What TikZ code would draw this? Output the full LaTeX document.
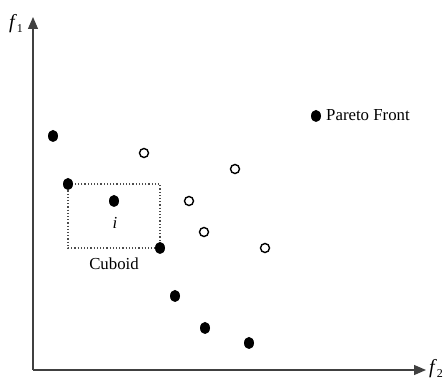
\documentclass[tikz,border=0pt]{standalone}
\usepackage{fontspec}
\setmainfont{Liberation Serif}
\usetikzlibrary{arrows.meta,shapes.geometric}
\tikzset{
  pfront/.style={fill=black, draw=none, ellipse, minimum width=10pt, minimum height=12pt, inner sep=0pt},
  dom/.style={draw=black, line width=1.4pt, circle, minimum size=9pt, inner sep=0pt},
  axis/.style={draw=black!75, line width=1.3pt, -{Triangle[length=12pt,width=10pt]}},
  lbl/.style={font=\fontsize{16.8}{19}\selectfont, inner sep=0pt},
  flbl/.style={font=\fontsize{20}{22}\selectfont, inner sep=0pt}
}
\begin{document}
\begin{tikzpicture}[x=1pt,y=-1pt]
\useasboundingbox (0,0) rectangle (448,382);
% axes
\coordinate (o) at (33,370);
\coordinate (ytop) at (33,17);
\coordinate (xend) at (426,370);
\draw[axis] (o) -- (ytop);
\draw[axis] (o) -- (xend);
\node[flbl, anchor=center] (f1) at (16,24) {\textit{f}\raisebox{-0.35ex}{\fontsize{12}{12}\selectfont 1}};
\node[flbl, anchor=center] (f2) at (436,369) {\textit{f}\raisebox{-0.35ex}{\fontsize{12}{12}\selectfont 2}};
% cuboid
\coordinate (c1) at (68,184);
\coordinate (c2) at (160,248);
\draw[black!70, line width=1.2pt, dotted] (c1) rectangle (c2);
% pareto front points
\node[pfront] (p1) at (53,136) {};
\node[pfront] (p2) at (68,184) {};
\node[pfront] (pi) at (114,201) {};
\node[pfront] (p3) at (160,248) {};
\node[pfront] (p4) at (175,296) {};
\node[pfront] (p5) at (205,328) {};
\node[pfront] (p6) at (249,343) {};
% dominated points
\node[dom] (d1) at (144,153) {};
\node[dom] (d2) at (235,169) {};
\node[dom] (d3) at (189,201) {};
\node[dom] (d4) at (204,232) {};
\node[dom] (d5) at (265,248) {};
% labels
\node[lbl] (ilbl) at (115,223) {\textit{i}};
\node[lbl] (cub) at (114,264) {Cuboid};
\node[pfront] (leg) at (316,116) {};
\node[lbl, anchor=west] (legt) at (326,115) {Pareto Front};
\end{tikzpicture}
\end{document}
